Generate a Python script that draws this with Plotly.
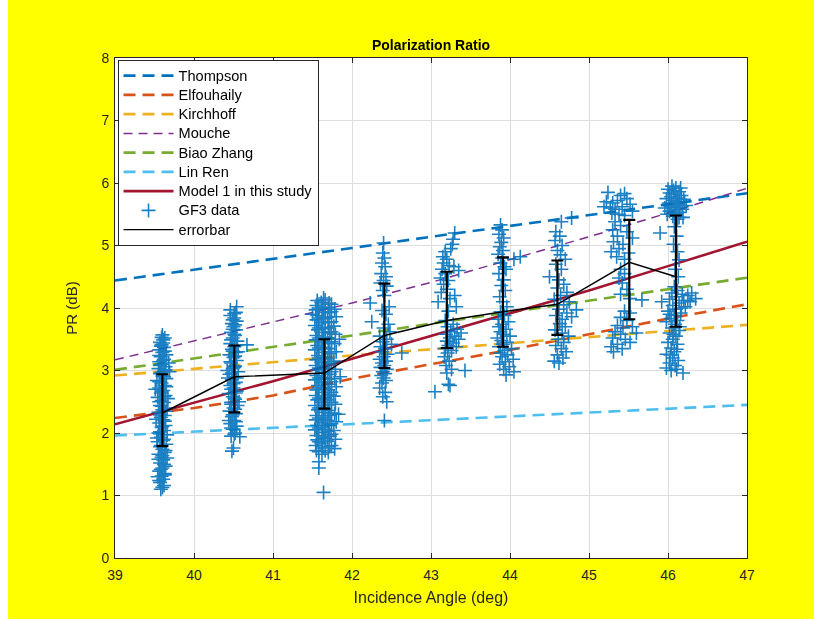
import plotly.graph_objects as go

# ---- model curves: PR (dB) versus incidence angle ----
model_angle = [39, 40, 41, 42, 43, 44, 45, 46, 47]
pr_thompson = [4.44, 4.61, 4.79, 4.96, 5.14, 5.31, 5.49, 5.66, 5.835]
pr_elfouhaily = [2.24, 2.40, 2.60, 2.87, 3.10, 3.33, 3.58, 3.83, 4.06]
pr_kirchhoff = [2.92, 3.03, 3.14, 3.24, 3.34, 3.44, 3.54, 3.64, 3.73]
pr_mouche = [3.17, 3.47, 3.77, 4.08, 4.41, 4.77, 5.14, 5.52, 5.915]
pr_biao_zhang = [3.01, 3.19, 3.38, 3.56, 3.75, 3.93, 4.12, 4.30, 4.485]
pr_lin_ren = [1.96, 2.02, 2.08, 2.14, 2.20, 2.26, 2.33, 2.39, 2.45]
pr_model1 = [2.14, 2.48, 2.83, 3.19, 3.55, 3.91, 4.28, 4.67, 5.06]

# ---- GF3 samples, grouped by incidence-angle bin: (angle, PR) ----
gf3_bin1 = [
    (39.58, 1.10), (39.62, 1.16), (39.57, 1.21), (39.61, 1.26), (39.59, 1.31), (39.63, 1.35),
    (39.56, 1.39), (39.60, 1.44), (39.64, 1.47), (39.57, 1.52), (39.61, 1.57), (39.59, 1.61),
    (39.55, 1.66), (39.63, 1.69), (39.60, 1.74), (39.57, 1.78), (39.65, 1.82), (39.54, 1.86),
    (39.61, 1.88), (39.58, 1.93), (39.66, 1.97), (39.55, 2.00), (39.62, 2.04), (39.59, 2.09),
    (39.64, 2.12), (39.56, 2.16), (39.61, 2.21), (39.58, 2.25), (39.63, 2.28), (39.55, 2.33),
    (39.60, 2.37), (39.66, 2.40), (39.57, 2.44), (39.62, 2.49), (39.59, 2.52), (39.54, 2.57),
    (39.64, 2.60), (39.58, 2.64), (39.61, 2.68), (39.56, 2.72), (39.63, 2.76), (39.59, 2.80),
    (39.53, 2.84), (39.65, 2.87), (39.60, 2.91), (39.57, 2.95), (39.62, 2.99), (39.55, 3.03),
    (39.64, 3.06), (39.59, 3.10), (39.56, 3.14), (39.62, 3.18), (39.58, 3.22), (39.65, 3.25),
    (39.60, 3.29), (39.56, 3.33), (39.62, 3.37), (39.59, 3.41), (39.57, 3.45), (39.61, 3.49),
    (39.59, 3.53), (39.60, 3.57), (39.69, 2.98), (39.52, 2.22), (39.67, 2.55), (39.53, 1.92),
    (39.68, 3.12), (39.51, 2.70), (39.66, 1.60), (39.54, 1.30),
    (39.60, 1.13), (39.56, 1.24), (39.63, 1.33), (39.58, 1.42), (39.62, 1.50), (39.55, 1.58),
    (39.60, 1.64), (39.64, 1.72), (39.58, 1.80), (39.62, 1.90), (39.57, 2.02), (39.60, 2.11),
    (39.63, 2.19), (39.57, 2.29), (39.64, 2.35), (39.59, 2.43), (39.56, 2.50), (39.62, 2.58),
    (39.59, 2.66), (39.65, 2.74), (39.56, 2.82), (39.62, 2.90), (39.59, 2.97), (39.64, 3.01),
    (39.57, 3.08), (39.61, 3.16), (39.56, 3.24), (39.63, 3.31), (39.58, 3.39), (39.61, 3.44),
    (39.63, 3.52),
]
gf3_bin2 = [
    (40.48, 1.71), (40.50, 1.76), (40.58, 1.94), (40.47, 1.95), (40.52, 2.00), (40.49, 2.06),
    (40.54, 2.11), (40.46, 2.15), (40.51, 2.20), (40.48, 2.26), (40.53, 2.31), (40.45, 2.35),
    (40.50, 2.40), (40.55, 2.44), (40.47, 2.49), (40.52, 2.54), (40.49, 2.58), (40.44, 2.63),
    (40.54, 2.67), (40.50, 2.72), (40.46, 2.76), (40.53, 2.81), (40.48, 2.85), (40.51, 2.90),
    (40.45, 2.94), (40.56, 2.98), (40.49, 3.03), (40.52, 3.07), (40.47, 3.12), (40.54, 3.16),
    (40.50, 3.21), (40.45, 3.25), (40.53, 3.29), (40.48, 3.34), (40.51, 3.38), (40.67, 3.41),
    (40.46, 3.43), (40.55, 3.47), (40.49, 3.52), (40.52, 3.56), (40.47, 3.61), (40.53, 3.65),
    (40.50, 3.70), (40.48, 3.75), (40.54, 3.79), (40.51, 3.84), (40.46, 3.88), (40.53, 3.93),
    (40.46, 3.97), (40.54, 4.02), (40.43, 2.88), (40.57, 2.50), (40.42, 3.00), (40.56, 3.30),
    (40.44, 2.20),
    (40.51, 1.98), (40.47, 2.08), (40.53, 2.18), (40.49, 2.29), (40.52, 2.38), (40.47, 2.46),
    (40.51, 2.56), (40.53, 2.64), (40.47, 2.70), (40.50, 2.79), (40.54, 2.88), (40.48, 2.96),
    (40.51, 3.05), (40.46, 3.14), (40.52, 3.23), (40.49, 3.31), (40.54, 3.40), (40.47, 3.49),
    (40.51, 3.58), (40.49, 3.66), (40.52, 3.73), (40.49, 3.81), (40.51, 3.91),
]
gf3_bin3 = [
    (41.55, 1.72), (41.54, 1.80), (41.56, 1.89), (41.55, 1.96), (41.53, 2.05), (41.56, 2.12),
    (41.54, 2.21), (41.55, 2.28), (41.57, 2.37), (41.53, 2.44), (41.56, 2.53), (41.54, 2.60),
    (41.55, 2.69), (41.57, 2.76), (41.53, 2.85), (41.55, 2.92), (41.56, 3.01), (41.54, 3.08),
    (41.55, 3.17), (41.57, 3.24), (41.53, 3.33), (41.56, 3.40), (41.54, 3.49), (41.55, 3.56),
    (41.57, 3.65), (41.53, 3.72), (41.55, 3.81), (41.56, 3.88), (41.54, 3.97), (41.55, 4.04),
    (41.56, 4.12),
    (41.62, 1.66), (41.63, 1.76), (41.61, 1.84), (41.64, 1.93), (41.62, 2.01), (41.63, 2.09),
    (41.61, 2.17), (41.64, 2.25), (41.62, 2.33), (41.63, 2.41), (41.61, 2.49), (41.64, 2.57),
    (41.62, 2.65), (41.63, 2.73), (41.61, 2.81), (41.64, 2.89), (41.62, 2.97), (41.63, 3.05),
    (41.61, 3.13), (41.64, 3.21), (41.62, 3.29), (41.63, 3.37), (41.61, 3.45), (41.64, 3.53),
    (41.62, 3.61), (41.63, 3.69), (41.61, 3.77), (41.64, 3.85), (41.62, 3.93), (41.63, 4.01),
    (41.61, 4.09), (41.64, 4.16),
    (41.70, 1.69), (41.71, 1.78), (41.69, 1.87), (41.72, 1.95), (41.70, 2.03), (41.71, 2.12),
    (41.69, 2.20), (41.72, 2.28), (41.70, 2.36), (41.71, 2.45), (41.69, 2.53), (41.72, 2.61),
    (41.70, 2.69), (41.71, 2.78), (41.69, 2.86), (41.72, 2.94), (41.70, 3.02), (41.71, 3.11),
    (41.69, 3.19), (41.72, 3.27), (41.70, 3.35), (41.71, 3.44), (41.69, 3.52), (41.72, 3.60),
    (41.70, 3.68), (41.71, 3.77), (41.69, 3.85), (41.72, 3.93), (41.70, 4.01), (41.71, 4.08),
    (41.78, 1.75), (41.79, 1.90), (41.77, 2.04), (41.80, 2.18), (41.78, 2.31), (41.79, 2.46),
    (41.77, 2.59), (41.80, 2.74), (41.78, 2.87), (41.79, 3.02), (41.77, 3.15), (41.80, 3.30),
    (41.78, 3.43), (41.79, 3.58), (41.77, 3.71), (41.80, 3.86), (41.78, 3.98),
    (41.58, 1.70), (41.66, 1.72), (41.74, 1.80), (41.58, 1.86), (41.66, 1.91), (41.74, 1.98),
    (41.58, 2.08), (41.66, 2.06), (41.74, 2.15), (41.58, 2.24), (41.66, 2.22), (41.74, 2.32),
    (41.58, 2.40), (41.66, 2.38), (41.74, 2.49), (41.58, 2.56), (41.66, 2.55), (41.74, 2.65),
    (41.58, 2.72), (41.66, 2.71), (41.74, 2.82), (41.58, 2.88), (41.66, 2.87), (41.74, 2.98),
    (41.58, 3.04), (41.66, 3.03), (41.74, 3.14), (41.58, 3.20), (41.66, 3.19), (41.74, 3.30),
    (41.58, 3.36), (41.66, 3.35), (41.74, 3.46), (41.58, 3.52), (41.66, 3.51), (41.74, 3.62),
    (41.58, 3.68), (41.66, 3.67), (41.74, 3.78), (41.58, 3.84), (41.66, 3.83), (41.74, 3.94),
    (41.58, 4.00), (41.66, 3.99), (41.74, 4.06), (41.66, 4.13),
    (41.58, 1.54), (41.58, 1.44), (41.64, 1.05), (41.85, 2.90), (41.84, 3.50), (41.50, 3.90),
    (41.83, 2.30),
]
gf3_bin4 = [
    (42.40, 5.04), (42.39, 4.88), (42.41, 4.80), (42.38, 4.72), (42.42, 4.66), (42.37, 4.55),
    (42.43, 4.50), (42.40, 4.44), (42.36, 4.40), (42.44, 4.35), (42.39, 4.28), (42.41, 4.20),
    (42.23, 4.08), (42.47, 4.02), (42.38, 3.96), (42.43, 3.90), (42.25, 3.78), (42.46, 3.74),
    (42.40, 3.68), (42.48, 3.62), (42.35, 3.55), (42.44, 3.50), (42.39, 3.46), (42.50, 3.42),
    (42.36, 3.38), (42.42, 3.35), (42.38, 3.30), (42.63, 3.28), (42.45, 3.26), (42.40, 3.22),
    (42.35, 3.18), (42.43, 3.15), (42.38, 3.12), (42.41, 3.08), (42.36, 3.05), (42.44, 3.02),
    (42.39, 2.98), (42.42, 2.95), (42.37, 2.92), (42.40, 2.88), (42.43, 2.84), (42.38, 2.80),
    (42.35, 2.72), (42.42, 2.65), (42.39, 2.58), (42.44, 2.50), (42.41, 2.20),
]
gf3_bin5 = [
    (43.30, 5.20), (43.28, 5.10), (43.27, 5.02), (43.25, 4.95), (43.18, 4.90), (43.15, 4.82),
    (43.20, 4.78), (43.16, 4.72), (43.23, 4.68), (43.14, 4.62), (43.29, 4.66), (43.35, 4.60),
    (43.18, 4.55), (43.12, 4.48), (43.22, 4.44), (43.16, 4.38), (43.20, 4.30), (43.13, 4.25),
    (43.30, 4.20), (43.24, 4.15), (43.09, 4.10), (43.32, 4.02), (43.22, 3.95), (43.18, 3.80),
    (43.28, 3.74), (43.21, 3.70), (43.33, 3.66), (43.25, 3.62), (43.38, 3.60), (43.19, 3.58),
    (43.30, 3.55), (43.24, 3.52), (43.35, 3.50), (43.20, 3.47), (43.28, 3.44), (43.22, 3.40),
    (43.32, 3.38), (43.18, 3.35), (43.26, 3.32), (43.21, 3.28), (43.17, 3.22), (43.23, 3.15),
    (43.19, 3.08), (43.26, 3.02), (43.43, 3.00), (43.20, 2.96), (43.22, 2.78), (43.24, 2.76),
    (43.05, 2.66),
]
gf3_bin6 = [
    (43.88, 5.33), (43.90, 5.25), (43.86, 5.18), (43.92, 5.12), (43.89, 5.05), (43.87, 4.98),
    (43.91, 4.92), (43.85, 4.86), (43.90, 4.80), (44.13, 4.82), (44.05, 4.78), (43.88, 4.72),
    (43.93, 4.66), (43.95, 4.62), (43.86, 4.55), (43.92, 4.45), (43.89, 4.36), (43.94, 4.28),
    (43.87, 4.18), (43.91, 4.10), (43.96, 4.02), (43.88, 3.94), (43.93, 3.88), (43.85, 3.82),
    (43.98, 3.78), (43.90, 3.74), (43.86, 3.70), (43.95, 3.66), (43.88, 3.62), (43.92, 3.58),
    (44.00, 3.55), (43.84, 3.52), (43.89, 3.48), (43.96, 3.45), (43.91, 3.42), (43.86, 3.38),
    (44.02, 3.35), (43.93, 3.32), (43.88, 3.28), (43.97, 3.25), (43.90, 3.22), (44.04, 3.18),
    (43.94, 3.14), (43.87, 3.10), (43.99, 3.06), (43.92, 3.02), (44.05, 2.98), (43.95, 2.93),
]
gf3_bin7 = [
    (44.78, 5.44), (44.65, 5.38), (44.58, 5.22), (44.63, 5.15), (44.57, 5.08), (44.66, 5.00),
    (44.60, 4.92), (44.64, 4.85), (44.70, 4.78), (44.58, 4.70), (44.65, 4.62), (44.50, 4.50),
    (44.62, 4.45), (44.68, 4.38), (44.60, 4.32), (44.72, 4.25), (44.64, 4.20), (44.56, 4.14),
    (44.75, 4.10), (44.68, 4.05), (44.84, 3.97), (44.62, 3.98), (44.72, 3.92), (44.58, 3.88),
    (44.66, 3.82), (44.78, 3.86), (44.63, 3.75), (44.70, 3.70), (44.57, 3.65), (44.66, 3.60),
    (44.74, 3.55), (44.61, 3.50), (44.68, 3.45), (44.58, 3.40), (44.65, 3.35), (44.71, 3.30),
    (44.60, 3.25), (44.67, 3.20), (44.56, 3.15), (44.62, 3.12),
]
gf3_bin8 = [
    (45.24, 5.85), (45.40, 5.80), (45.45, 5.83), (45.22, 5.70), (45.30, 5.68), (45.36, 5.72),
    (45.48, 5.75), (45.19, 5.62), (45.27, 5.60), (45.33, 5.58), (45.42, 5.62), (45.52, 5.66),
    (45.29, 5.52), (45.38, 5.50), (45.45, 5.48), (45.55, 5.55),
    (45.33, 5.38), (45.40, 5.32), (45.30, 5.25), (45.48, 5.22), (45.36, 5.15), (45.55, 5.12),
    (45.31, 5.06), (45.43, 5.02), (45.38, 4.95), (45.28, 4.90), (45.50, 4.88), (45.35, 4.82),
    (45.45, 4.78),
    (45.40, 4.62), (45.45, 4.55), (45.38, 4.48), (45.42, 4.40), (45.48, 4.30), (45.40, 4.22),
    (45.67, 4.13), (45.52, 4.15),
    (45.45, 3.95), (45.52, 3.92), (45.40, 3.85), (45.48, 3.80), (45.36, 3.72), (45.43, 3.68),
    (45.55, 3.70), (45.33, 3.62), (45.40, 3.58), (45.60, 3.60), (45.30, 3.52), (45.46, 3.50),
    (45.52, 3.45), (45.36, 3.42), (45.28, 3.38), (45.42, 3.35), (45.31, 3.30),
]
gf3_bin9 = [
    (46.05, 5.95), (46.10, 5.92), (46.07, 5.88), (46.14, 5.86), (46.02, 5.84), (46.09, 5.82),
    (46.17, 5.80), (46.04, 5.78), (46.12, 5.76), (45.98, 5.75), (46.20, 5.74), (46.07, 5.72),
    (46.15, 5.70), (46.01, 5.68), (46.10, 5.66), (46.23, 5.64), (46.05, 5.63), (46.13, 5.61),
    (45.96, 5.60), (46.18, 5.58), (46.08, 5.57), (46.02, 5.55), (46.15, 5.53), (46.10, 5.50),
    (46.06, 5.47), (46.19, 5.45), (46.12, 5.42),
    (46.00, 5.90), (46.16, 5.92), (46.11, 5.68), (46.03, 5.62), (46.21, 5.70), (46.08, 5.52),
    (46.14, 5.45), (45.99, 5.50),
    (45.90, 5.20), (46.08, 5.30), (46.11, 5.15), (46.07, 5.02), (46.12, 4.90), (46.14, 4.77),
    (46.09, 4.62), (46.13, 4.50),
    (46.08, 4.34), (46.12, 4.28), (46.05, 4.24), (46.30, 4.24), (46.18, 4.22), (46.25, 4.20),
    (46.10, 4.18), (46.35, 4.15), (46.02, 4.14), (46.20, 4.12), (46.28, 4.10), (46.14, 4.08),
    (45.92, 4.10), (46.06, 4.04), (46.22, 4.02), (46.10, 3.98), (46.00, 3.95), (46.16, 3.92),
    (46.08, 3.88), (46.04, 3.83), (46.12, 3.80), (45.98, 3.78), (46.09, 3.74), (46.05, 3.68),
    (46.14, 3.64), (46.02, 3.60), (46.10, 3.55), (46.06, 3.50), (46.00, 3.45), (46.12, 3.42),
    (46.04, 3.36), (46.08, 3.30), (45.98, 3.26), (46.06, 3.20), (46.13, 3.16), (46.02, 3.12),
    (46.09, 3.08), (45.98, 3.04), (46.04, 3.00), (46.11, 3.02), (46.19, 2.96),
    (46.15, 3.70), (46.07, 3.58), (46.11, 3.34), (46.03, 3.25), (46.17, 4.00), (46.25, 4.12),
    (46.02, 3.90),
]

# ---- per-bin statistics drawn as the error-bar line ----
bin_angle = [39.60, 40.51, 41.65, 42.41, 43.20, 43.91, 44.60, 45.51, 46.10]
bin_center = [2.32, 2.90, 2.96, 3.56, 3.80, 3.94, 4.06, 4.73, 4.50]
bin_upper = [2.94, 3.40, 3.50, 4.39, 4.58, 4.81, 4.76, 5.41, 5.48]
bin_lower = [1.79, 2.33, 2.39, 3.04, 3.36, 3.38, 3.57, 3.82, 3.70]

FONT = "Liberation Sans, Arial, Helvetica, sans-serif"
AX = "#262626"


def legend_label(text):
    return '<span style="font-size:14.6px">' + text + "</span>"


fig = go.Figure()

models = [
    ("Thompson", pr_thompson, "#0072BD", 2.6, "12px,7px"),
    ("Elfouhaily", pr_elfouhaily, "#D95319", 2.6, "12px,7px"),
    ("Kirchhoff", pr_kirchhoff, "#EDB120", 2.6, "12px,7px"),
    ("Mouche", pr_mouche, "#7E2F8E", 1.5, "9px,6px"),
    ("Biao Zhang", pr_biao_zhang, "#77AC30", 2.6, "12px,7px"),
    ("Lin Ren", pr_lin_ren, "#4DBEEE", 2.6, "12px,7px"),
]
for name, vals, color, width, dash in models:
    fig.add_trace(go.Scatter(
        x=model_angle, y=vals, mode="lines", name=legend_label(name),
        line=dict(color=color, width=width, dash=dash),
    ))

fig.add_trace(go.Scatter(
    x=model_angle, y=pr_model1, mode="lines", name=legend_label("Model 1 in this study"),
    line=dict(color="#A2142F", width=2.6),
))

gf3_points = gf3_bin1 + gf3_bin2 + gf3_bin3 + gf3_bin4 + gf3_bin5 + gf3_bin6 + gf3_bin7 + gf3_bin8 + gf3_bin9
fig.add_trace(go.Scatter(
    x=[p[0] for p in gf3_points], y=[p[1] for p in gf3_points],
    mode="markers", name=legend_label("GF3 data"),
    marker=dict(symbol="cross-thin", size=10, color="#0072BD",
                line=dict(color="#0072BD", width=1.6)),
    opacity=0.9,
))

fig.add_trace(go.Scatter(
    x=bin_angle, y=bin_center, mode="lines", name=legend_label("errorbar"),
    line=dict(color="black", width=1.4),
    error_y=dict(
        type="data", symmetric=False,
        array=[u - c for u, c in zip(bin_upper, bin_center)],
        arrayminus=[c - l for c, l in zip(bin_center, bin_lower)],
        color="black", thickness=2.2, width=6,
    ),
))

axis_common = dict(
    showgrid=True, gridcolor="#DEDEDE", gridwidth=1,
    showline=True, linecolor=AX, linewidth=1, mirror="ticks",
    ticks="inside", ticklen=5, tickcolor=AX, tickwidth=1,
    tickfont=dict(family=FONT, size=14, color=AX),
    zeroline=False, dtick=1,
)

fig.update_layout(
    width=814, height=619,
    margin=dict(l=115, r=67, t=58, b=61),
    paper_bgcolor="#FFFF00", plot_bgcolor="white",
    font=dict(family=FONT, color=AX),
    title=dict(text="<b>Polarization Ratio</b>", x=0.5, xref="paper", xanchor="center",
               y=1 - 45 / 619, yanchor="middle", font=dict(family=FONT, size=14, color="black")),
    xaxis=dict(range=[39, 47], ticklabelstandoff=4,
               title=dict(text="Incidence Angle (deg)", font=dict(size=16, color=AX), standoff=10),
               **axis_common),
    yaxis=dict(range=[0, 8], ticklabelstandoff=2,
               title=dict(text="PR (dB)", font=dict(size=15, color=AX), standoff=20),
               **axis_common),
    legend=dict(x=0.004, y=0.996, xanchor="left", yanchor="top",
                bgcolor="white", bordercolor=AX, borderwidth=1,
                font=dict(family=FONT, size=12.5, color="black"),
                itemwidth=50, tracegroupgap=0),
    showlegend=True,
    shapes=[dict(type="rect", xref="paper", yref="paper",
                 x0=-115 / 632, x1=-107 / 632, y0=-61 / 500 - 0.01, y1=1 + 58 / 500 + 0.01,
                 fillcolor="white", line=dict(width=0), layer="below")],
)

fig.write_html("out.html")
